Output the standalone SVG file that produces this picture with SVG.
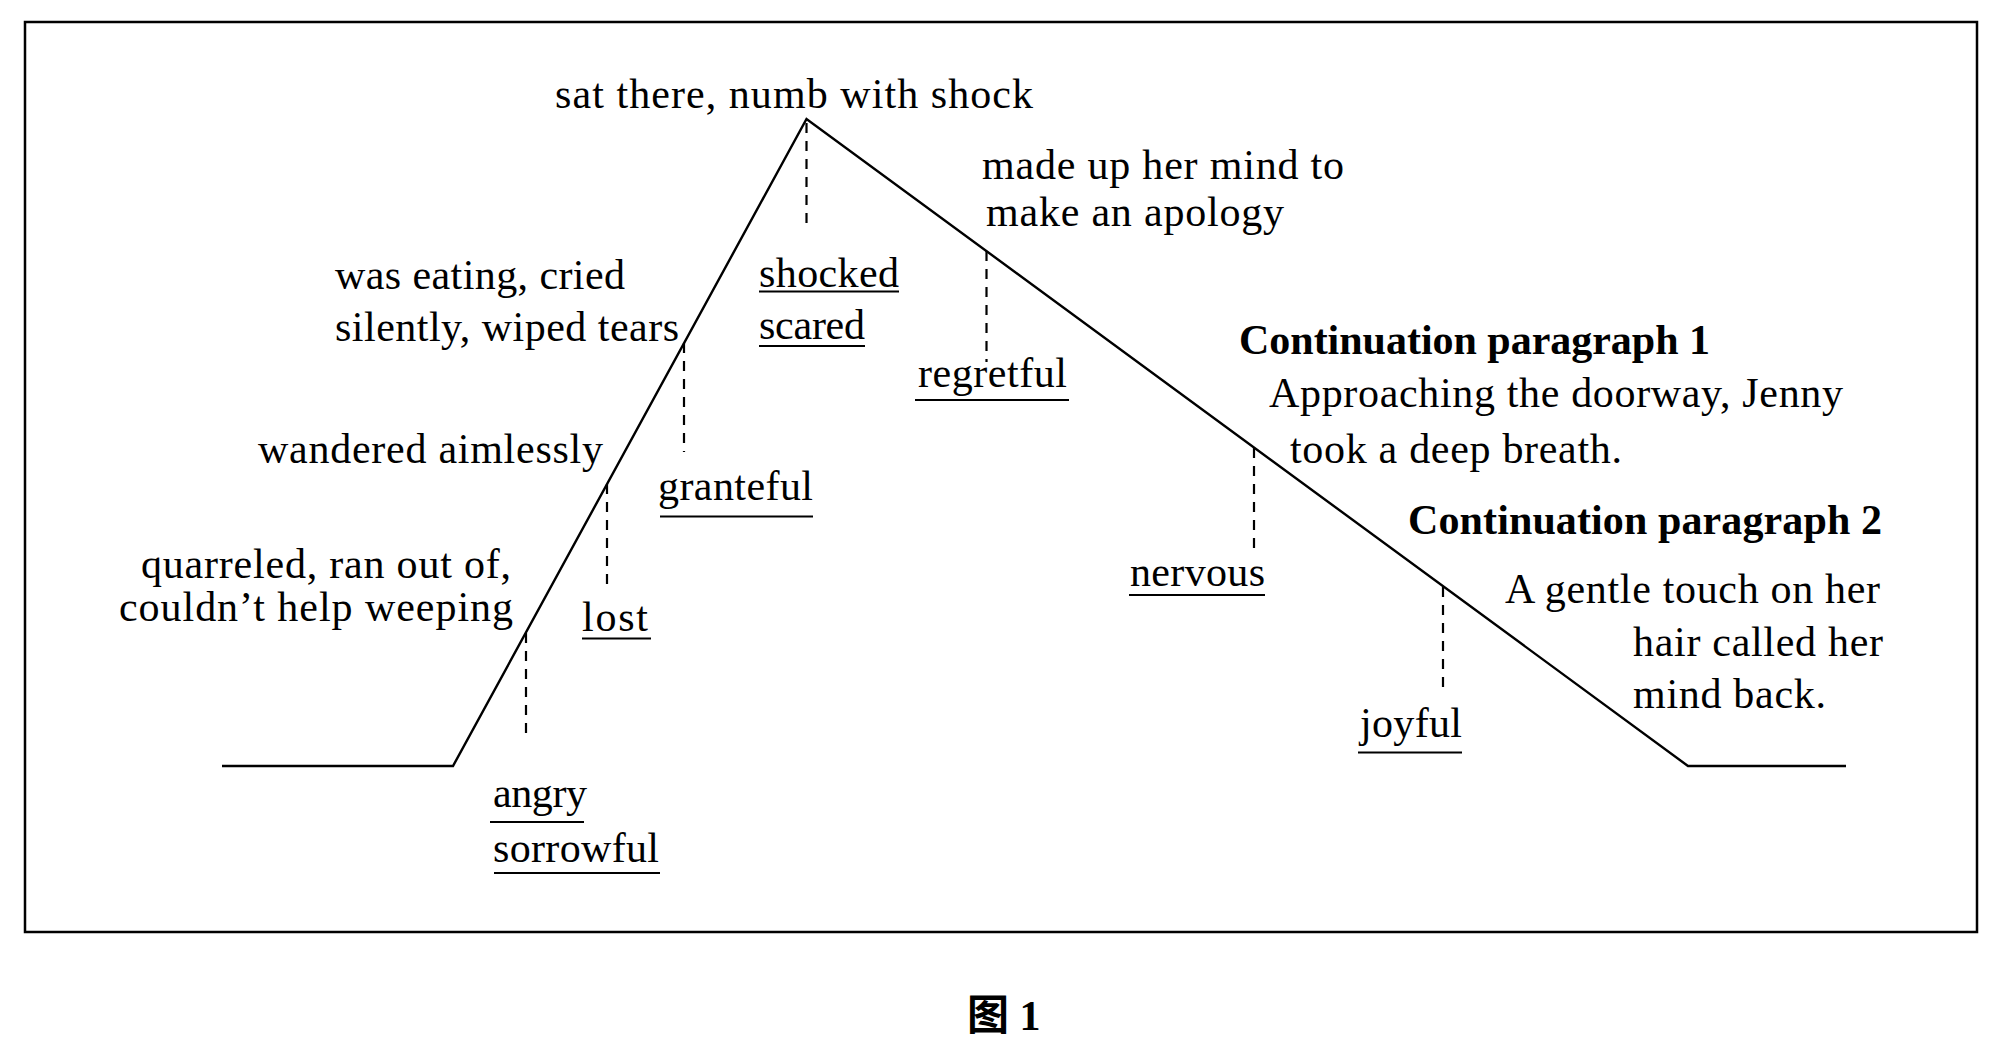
<svg xmlns="http://www.w3.org/2000/svg" width="2000" height="1046" viewBox="0 0 2000 1046">
<style>
.t{font-family:"Liberation Serif","Times New Roman",serif;font-size:42px;fill:#000}
.b{font-family:"Liberation Serif","Noto Sans CJK SC",serif;font-size:42px;font-weight:bold;fill:#000}
.ul{stroke:#000;stroke-width:2}
.main{fill:none;stroke:#000;stroke-width:2.4;stroke-linejoin:miter}
.dash{stroke:#000;stroke-width:2.2;stroke-dasharray:10 8}
</style>
<rect x="0" y="0" width="2000" height="1046" fill="#fff"/>
<rect id="frame" x="25" y="22" width="1952" height="910" fill="none" stroke="#000" stroke-width="2.5"/>
<g id="connectors">
<polyline class="main" points="222,766 453,766 806.5,119 1688,766 1846,766"/>
<line class="dash" x1="806.5" y1="123" x2="806.5" y2="227"/>
<line class="dash" x1="986.5" y1="251" x2="986.5" y2="362"/>
<line class="dash" x1="684" y1="343" x2="684" y2="452"/>
<line class="dash" x1="607" y1="484" x2="607" y2="590"/>
<line class="dash" x1="526" y1="633" x2="526" y2="739"/>
<line class="dash" x1="1254" y1="448" x2="1254" y2="555"/>
<line class="dash" x1="1443" y1="587" x2="1443" y2="695"/>
</g>
<g id="node-peak"><text class="t" x="555" y="108" textLength="478">sat there, numb with  shock</text></g>
<g id="node-apology">
<text class="t" x="982" y="179" textLength="362">made up her mind to</text>
<text class="t" x="986" y="226" textLength="298">make an apology</text>
</g>
<g id="node-eating">
<text class="t" x="335" y="289" textLength="290">was eating, cried</text>
<text class="t" x="335" y="341" textLength="344">silently, wiped tears</text>
</g>
<g id="node-shocked">
<text class="t" x="759" y="287" textLength="140">shocked</text>
<line class="ul" x1="759" y1="291.5" x2="899" y2="291.5"/>
<text class="t" x="759" y="339" textLength="106">scared</text>
<line class="ul" x1="759" y1="346" x2="865" y2="346"/>
</g>
<g id="node-regretful">
<text class="t" x="918" y="387" textLength="149">regretful</text>
<line class="ul" x1="915" y1="400" x2="1069" y2="400"/>
</g>
<g id="node-wandered"><text class="t" x="258" y="463" textLength="345">wandered aimlessly</text></g>
<g id="node-granteful">
<text class="t" x="658" y="500" textLength="155">granteful</text>
<line class="ul" x1="660" y1="516.5" x2="813" y2="516.5"/>
</g>
<g id="node-quarreled">
<text class="t" x="141" y="578" textLength="370">quarreled, ran out of,</text>
<text class="t" x="119" y="621" textLength="394">couldn’t help weeping</text>
</g>
<g id="node-lost">
<text class="t" x="582" y="631" textLength="66">lost</text>
<line class="ul" x1="582" y1="638.5" x2="651" y2="638.5"/>
</g>
<g id="node-angry">
<text class="t" x="493" y="806.5" textLength="94">angry</text>
<line class="ul" x1="490" y1="822" x2="584" y2="822"/>
<text class="t" x="493" y="862" textLength="166">sorrowful</text>
<line class="ul" x1="494" y1="873" x2="660" y2="873"/>
</g>
<g id="node-para1">
<text class="b" x="1239" y="354" textLength="471">Continuation paragraph 1</text>
<text class="t" x="1269" y="407" textLength="574">Approaching the doorway, Jenny</text>
<text class="t" x="1290" y="463" textLength="332">took a deep breath.</text>
</g>
<g id="node-nervous">
<text class="t" x="1130" y="586" textLength="135">nervous</text>
<line class="ul" x1="1129" y1="595" x2="1265" y2="595"/>
</g>
<g id="node-para2">
<text class="b" x="1408" y="534" textLength="474">Continuation paragraph 2</text>
<text class="t" x="1505" y="603" textLength="375">A gentle touch on her</text>
<text class="t" x="1633" y="656" textLength="250">hair called her</text>
<text class="t" x="1633" y="708" textLength="193">mind back.</text>
</g>
<g id="node-joyful">
<text class="t" x="1360" y="736.5" textLength="102">joyful</text>
<line class="ul" x1="1358" y1="752.5" x2="1462" y2="752.5"/>
</g>
<g id="caption"><text class="b" x="967" y="1030" font-family="'Noto Sans CJK SC','Liberation Serif',sans-serif">图 1</text></g>
</svg>
